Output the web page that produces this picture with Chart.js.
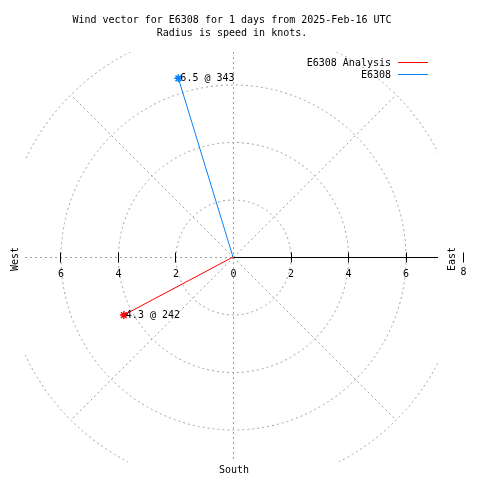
<!DOCTYPE html>
<html>
<head>
<meta charset="utf-8">
<script src="https://cdn.jsdelivr.net/npm/chart.js@4"></script>
<style>
  html, body { margin: 0; background: #fff; }
  #wrap { width: 480px; height: 480px; }
</style>
</head>
<body>
<div id="wrap"><canvas id="chart" width="480" height="480"></canvas></div>
<script>
const TITLE = [
  "Wind vector for E6308 for 1 days from 2025-Feb-16 UTC",
  "Radius is speed in knots."
];
const SERIES = ["E6308 Analysis", "E6308"];
const SPEEDS = [4.3, 6.5];        // knots
const DIRECTIONS = [242, 343];    // degrees
const RINGS = [2, 4, 6, 8];
const SPOKES = [45, 135, 225, 315];
const AXIS_TICKS = [-6, -4, -2, 0, 2, 4, 6, 8];
const LIMIT = 7.13;

const LINE_COLORS = ["#ff0000", "#0a80f5"];
const GRID = "#a0a0a0";
const FONT = '10px "DejaVu Sans Mono", "Liberation Mono", monospace';

// speed/direction -> east/north components
const toXY = (s, d) => ({
  x: s * Math.sin(d * Math.PI / 180),
  y: s * Math.cos(d * Math.PI / 180)
});

const polarGrid = {
  id: "polarGrid",
  beforeDatasetsDraw(chart) {
    const { ctx, chartArea: a, scales: { x, y } } = chart;
    const cx = Math.round(x.getPixelForValue(0)) + 0.5;
    const cy = Math.round(y.getPixelForValue(0)) + 0.5;
    const unit = x.getPixelForValue(1) - x.getPixelForValue(0);
    const rMax = Math.max(...RINGS) * unit;

    ctx.save();
    ctx.beginPath();
    ctx.rect(a.left - 3, a.top, a.width + 3, a.height);
    ctx.clip();
    ctx.strokeStyle = GRID;
    ctx.lineWidth = 1;
    ctx.setLineDash([2, 3]);
    RINGS.forEach(r => {
      ctx.beginPath();
      ctx.arc(cx, cy, r * unit, 0, Math.PI * 2);
      ctx.stroke();
    });
    ctx.beginPath();
    ctx.moveTo(a.left - 3, cy); ctx.lineTo(cx, cy);
    ctx.moveTo(cx, a.top); ctx.lineTo(cx, a.bottom);
    SPOKES.forEach(d => {
      const p = toXY(1, d);
      ctx.moveTo(cx, cy);
      ctx.lineTo(cx + p.x * rMax, cy - p.y * rMax);
    });
    ctx.stroke();
    ctx.restore();

    // east axis (solid) + tick marks
    ctx.save();
    ctx.strokeStyle = "#000";
    ctx.lineWidth = 1;
    ctx.beginPath();
    ctx.moveTo(cx, cy); ctx.lineTo(a.right, cy);
    AXIS_TICKS.filter(v => v !== 0).forEach(v => {
      const px = Math.round(x.getPixelForValue(v)) + 0.5;
      ctx.moveTo(px, cy - 5); ctx.lineTo(px, cy + 5);
    });
    ctx.stroke();

    ctx.fillStyle = "#000";
    ctx.font = FONT;
    ctx.textAlign = "center";
    ctx.textBaseline = "middle";
    AXIS_TICKS.forEach(v => {
      ctx.fillText(String(Math.abs(v)), x.getPixelForValue(v) + 0.5, cy + (v === 8 ? 15 : 17));
    });
    ctx.restore();
  },
  afterDatasetsDraw(chart) {
    const { ctx, scales: { x, y } } = chart;
    const cy = y.getPixelForValue(0);
    ctx.save();
    ctx.fillStyle = "#000";
    ctx.font = FONT;
    ctx.textBaseline = "middle";

    // vector end labels
    ctx.textAlign = "left";
    SERIES.forEach((_, i) => {
      const pt = chart.getDatasetMeta(i).data[1];
      ctx.fillText(SPEEDS[i].toFixed(1) + " @ " + DIRECTIONS[i], pt.x + 2, pt.y);
    });

    // title
    ctx.textAlign = "center";
    TITLE.forEach((t, i) => ctx.fillText(t, 232, 20 + i * 13));

    // compass labels
    ctx.fillText("South", x.getPixelForValue(0) + 1, 470);
    [["West", 15], ["East", 452]].forEach(([t, px]) => {
      ctx.save();
      ctx.translate(px, cy + 2);
      ctx.rotate(-Math.PI / 2);
      ctx.fillText(t, 0, 0);
      ctx.restore();
    });

    // legend
    ctx.textAlign = "right";
    SERIES.forEach((name, i) => {
      const ly = 63 + i * 12;
      ctx.fillText(name, 391, ly);
      ctx.strokeStyle = LINE_COLORS[i];
      ctx.lineWidth = 1;
      ctx.beginPath();
      ctx.moveTo(398, Math.round(ly) - 0.5);
      ctx.lineTo(428, Math.round(ly) - 0.5);
      ctx.stroke();
    });
    ctx.restore();
  }
};

new Chart(document.getElementById("chart"), {
  type: "scatter",
  data: {
    datasets: SERIES.map((name, i) => ({
      label: name,
      data: [{ x: 0, y: 0 }, toXY(SPEEDS[i], DIRECTIONS[i])],
      showLine: true,
      borderColor: LINE_COLORS[i],
      backgroundColor: LINE_COLORS[i],
      borderWidth: 1,
      pointStyle: "star",
      pointRadius: [0, 4],
      pointBorderWidth: 1.5,
      pointHoverRadius: 0
    }))
  },
  options: {
    responsive: false,
    animation: false,
    events: [],
    layout: { padding: { left: 28, right: 42, top: 52, bottom: 18 } },
    scales: {
      x: { type: "linear", min: -LIMIT, max: LIMIT, display: false },
      y: { type: "linear", min: -LIMIT, max: LIMIT, display: false }
    },
    plugins: {
      legend: { display: false },
      title: { display: false },
      tooltip: { enabled: false }
    }
  },
  plugins: [polarGrid]
});
</script>
</body>
</html>
